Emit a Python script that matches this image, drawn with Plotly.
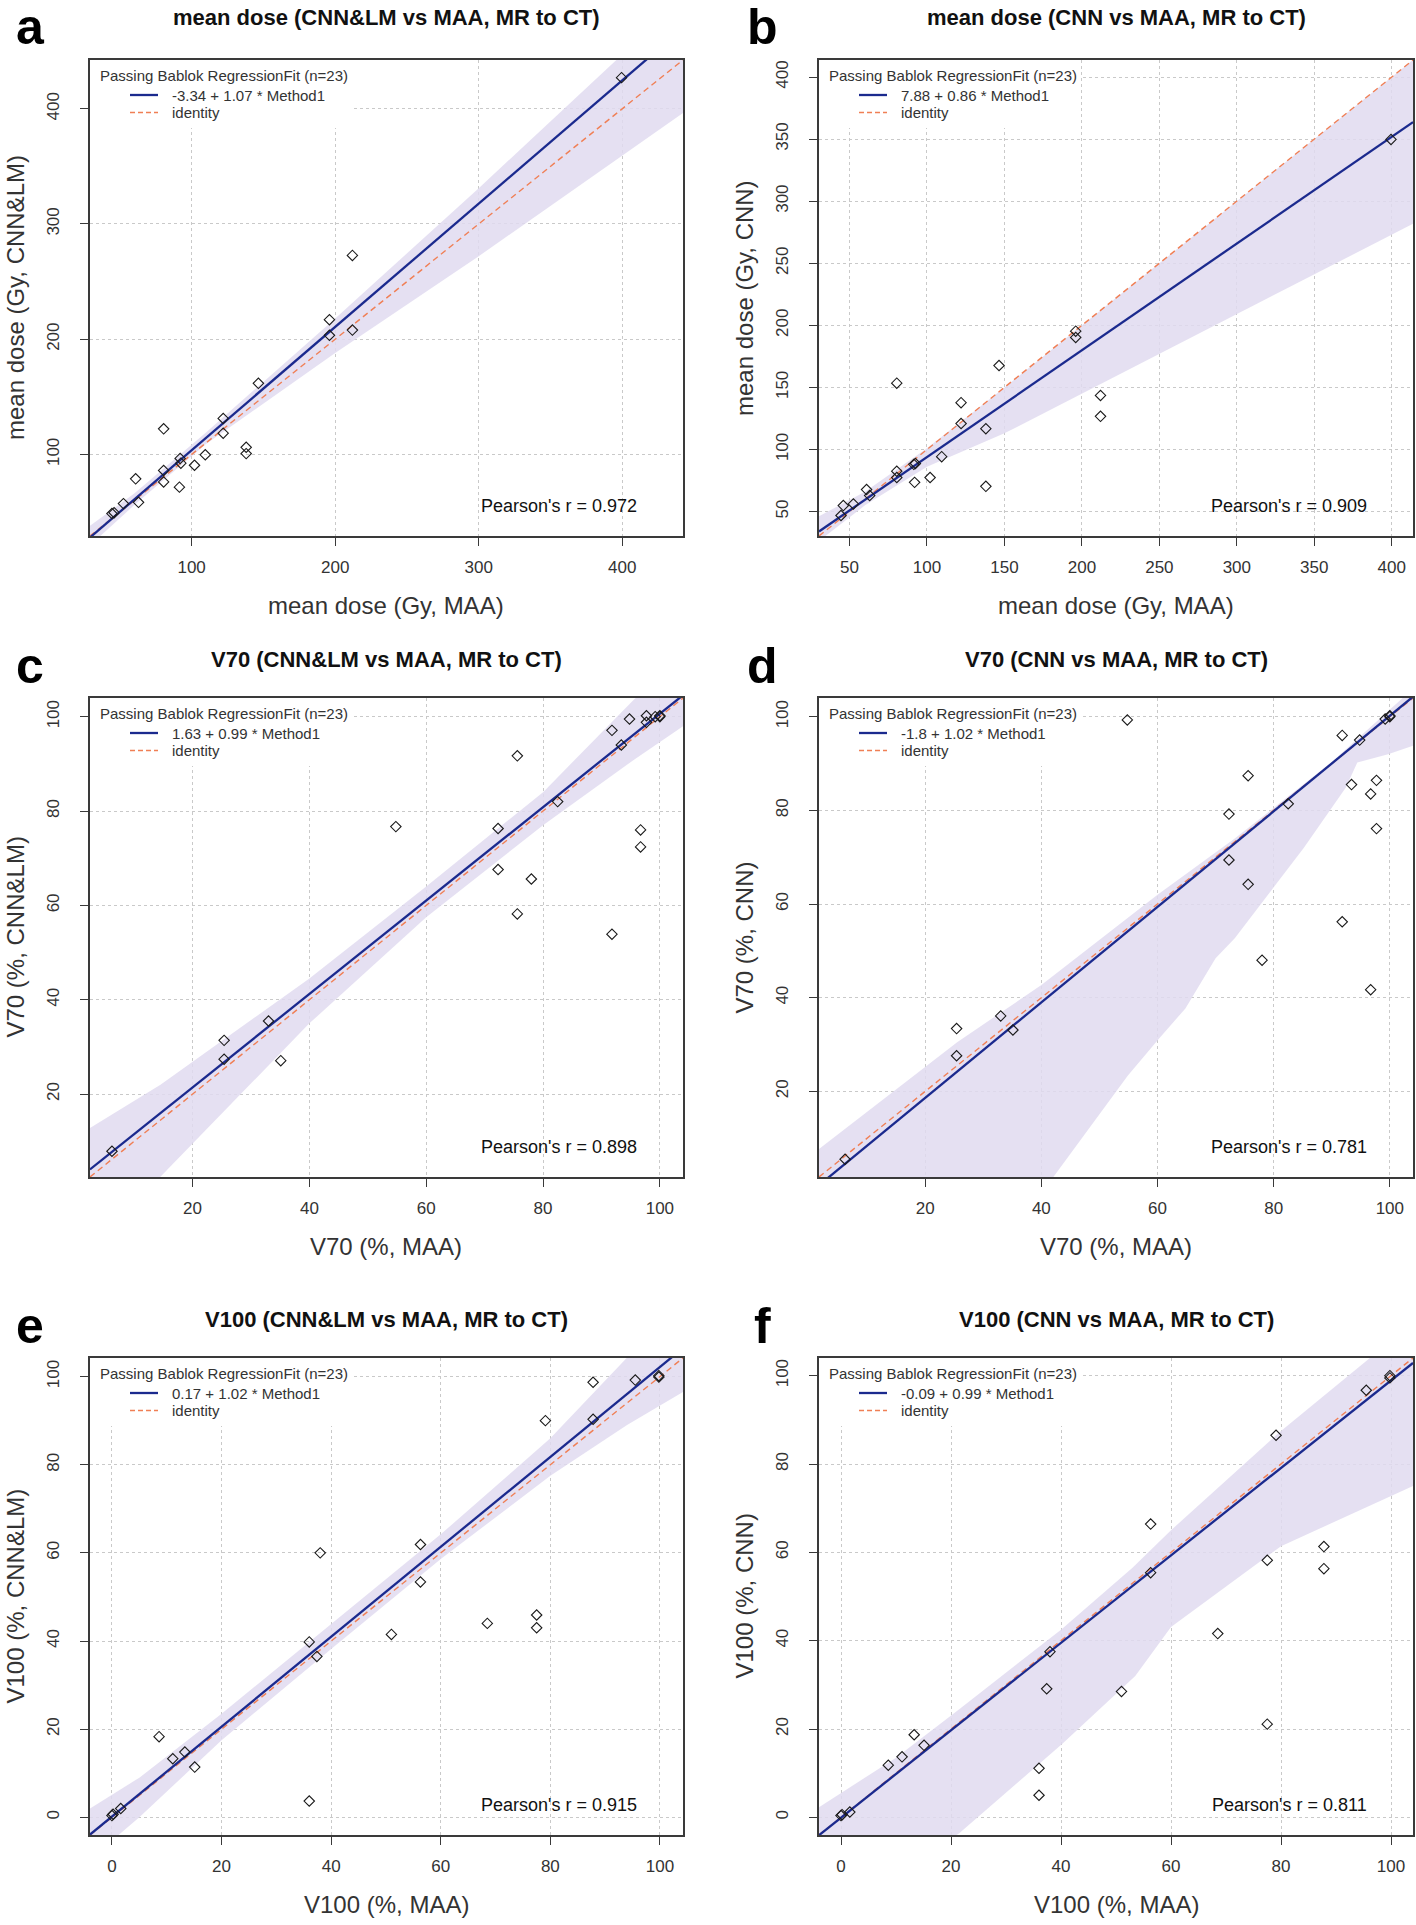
import plotly.graph_objects as go

W, H = 1416, 1925
FONT = "Liberation Sans, Arial, sans-serif"

# ---------------- data ----------------
maa_mean = [44.5, 46.0, 52.5, 61.0, 63.0, 80.5, 80.5, 80.5, 91.5, 92.0, 92.5, 102.0,
            109.5, 122.0, 122.0, 138.0, 138.0, 146.5, 196.0, 196.0, 212.0, 212.0, 399.5]
cnnlm_mean = [48.7, 49.4, 57.3, 78.8, 58.4, 122.2, 86.1, 76.1, 71.6, 96.5, 92.4, 90.6,
              99.7, 131.2, 118.4, 106.2, 100.7, 161.7, 216.9, 203.4, 272.7, 207.9, 427.0]
cnn_mean = [46.8, 54.8, 56.1, 67.7, 62.9, 153.4, 82.5, 77.4, 88.0, 73.5, 88.7, 77.4,
            94.2, 137.7, 120.9, 116.7, 70.3, 167.6, 195.3, 190.2, 143.5, 126.7, 349.7]

maa_v70 = [6.2, 25.4, 25.4, 33.0, 35.1, 54.8, 72.3, 72.3, 75.6, 75.6, 78.0, 82.5,
           91.8, 91.8, 93.4, 94.8, 96.7, 96.7, 97.7, 97.7, 99.2, 100.0, 100.0]
cnnlm_v70 = [7.9, 31.4, 27.4, 35.5, 27.1, 76.7, 76.3, 67.6, 91.7, 58.2, 65.6, 82.0,
             97.1, 53.9, 94.0, 99.5, 76.0, 72.4, 100.2, 98.8, 100.0, 100.2, 100.0]
cnn_v70 = [5.5, 33.4, 27.6, 36.1, 33.1, 99.3, 79.2, 69.4, 87.4, 64.2, 48.0, 81.4,
           96.0, 56.2, 85.5, 95.0, 83.5, 41.7, 86.4, 76.1, 99.5, 100.2, 100.0]

maa_v100 = [0.0, 0.2, 1.6, 8.6, 11.1, 13.3, 15.1, 36.0, 36.0, 37.4, 38.0, 51.0,
            56.3, 56.3, 68.5, 77.5, 77.5, 79.1, 87.8, 87.8, 95.5, 99.8, 99.8]
cnnlm_v100 = [0.4, 0.7, 2.0, 18.3, 13.3, 14.8, 11.4, 3.7, 39.8, 36.5, 60.0, 41.5,
              61.9, 53.4, 44.0, 45.9, 43.0, 90.0, 98.7, 90.3, 99.2, 99.9, 100.2]
cnn_v100 = [0.4, 0.6, 1.2, 11.8, 13.7, 18.7, 16.3, 11.1, 5.0, 29.1, 37.5, 28.5,
            66.4, 55.4, 41.6, 58.2, 21.1, 86.5, 61.3, 56.3, 96.7, 100.0, 99.5]

# Passing-Bablok fits (intercept, slope) and Pearson r
intercepts = [-3.34, 7.88, 1.63, -1.8, 0.17, -0.09]
slopes = [1.07, 0.86, 0.99, 1.02, 1.02, 0.99]
fit_labels = ["-3.34 + 1.07 * Method1", "7.88 + 0.86 * Method1", "1.63 + 0.99 * Method1",
              "-1.8 + 1.02 * Method1", "0.17 + 1.02 * Method1", "-0.09 + 0.99 * Method1"]
pearson = ["0.972", "0.909", "0.898", "0.781", "0.915", "0.811"]

# confidence band boundaries
band_a_xlo = [29.2, 60, 110, 200, 300, 443]
band_a_lo = [21, 56, 109, 188, 272, 397]
band_a_xhi = [29.2, 60, 110, 200, 300, 443]
band_a_hi = [38, 66, 119, 218, 331, 497]

band_b_xlo = [30, 60, 100, 150, 234, 300, 414]
band_b_lo = [26, 55, 86, 113, 167, 209, 282]
band_b_xhi = [30, 60, 100, 150, 234, 300, 414]
band_b_hi = [46, 66, 101, 150, 234, 300, 414]

band_c_xlo = [2.4, 14.5, 40, 60, 80, 95.7, 104]
band_c_lo = [-8, 2.5, 35, 57.5, 77, 91, 98]
band_c_xhi = [2.4, 14.5, 40, 60, 80, 95.7, 104]
band_c_hi = [12.8, 22, 44.5, 64, 84, 103.8, 111]

band_d_xlo = [1.6, 30, 42.0, 54.9, 60.2, 64.8, 70.0, 73.3, 79.9, 85.2, 92.4, 94.4, 99.7, 104]
band_d_lo = [-40, -19, 1.6, 23.4, 31.2, 37.7, 48.4, 52.7, 63.4, 72.0, 84.8, 90.2, 92.0, 93.8]
band_d_xhi = [1.6, 25.5, 40, 60, 73.3, 90, 104]
band_d_hi = [7.6, 30.5, 42.7, 62, 74, 90.3, 106]

band_e_xlo = [-4, 5, 20, 40, 60, 80, 94, 104.2]
band_e_lo = [-9.5, 0, 17.5, 38.2, 58.6, 77.5, 89, 96.5]
band_e_xhi = [-4, 5, 20, 40, 60, 80, 94, 104.2]
band_e_hi = [2, 9, 23.5, 43.8, 64.2, 86, 104.3, 115]

band_f_xlo = [-4, 21.5, 40.2, 53.5, 60, 80, 104]
band_f_lo = [-25, -3.6, 16.6, 32, 43.1, 61.4, 75]
band_f_xhi = [-4, 10, 21.5, 40, 53, 60, 80, 96.5, 104]
band_f_hi = [2.3, 13.5, 24.5, 42.5, 56.5, 65, 87.5, 104.1, 112]

ticks_mean_a = [100, 200, 300, 400]
ticks_mean_b = [50, 100, 150, 200, 250, 300, 350, 400]
ticks_v70 = [20, 40, 60, 80, 100]
ticks_v100 = [0, 20, 40, 60, 80, 100]

letters = ["a", "b", "c", "d", "e", "f"]
titles = ["mean dose (CNN&LM vs MAA, MR to CT)", "mean dose (CNN vs MAA, MR to CT)",
          "V70 (CNN&LM vs MAA, MR to CT)", "V70 (CNN vs MAA, MR to CT)",
          "V100 (CNN&LM vs MAA, MR to CT)", "V100 (CNN vs MAA, MR to CT)"]
xlabels = ["mean dose (Gy, MAA)", "mean dose (Gy, MAA)", "V70 (%, MAA)", "V70 (%, MAA)",
           "V100 (%, MAA)", "V100 (%, MAA)"]
ylabels = ["mean dose (Gy, CNN&LM)", "mean dose (Gy, CNN)", "V70 (%, CNN&LM)", "V70 (%, CNN)",
           "V100 (%, CNN&LM)", "V100 (%, CNN)"]

xs = [maa_mean, maa_mean, maa_v70, maa_v70, maa_v100, maa_v100]
ys = [cnnlm_mean, cnn_mean, cnnlm_v70, cnn_v70, cnnlm_v100, cnn_v100]
ticks = [ticks_mean_a, ticks_mean_b, ticks_v70, ticks_v70, ticks_v100, ticks_v100]
bands = [(band_a_xlo, band_a_lo, band_a_xhi, band_a_hi),
         (band_b_xlo, band_b_lo, band_b_xhi, band_b_hi),
         (band_c_xlo, band_c_lo, band_c_xhi, band_c_hi),
         (band_d_xlo, band_d_lo, band_d_xhi, band_d_hi),
         (band_e_xlo, band_e_lo, band_e_xhi, band_e_hi),
         (band_f_xlo, band_f_lo, band_f_xhi, band_f_hi)]

# ---------------- layout geometry (page pixels) ----------------
cols = [(90, 683), (819, 1413)]
rows = [(60, 536), (698, 1177), (1358, 1835)]
title_y = [18, 659, 1319]
letter_y = [27, 666, 1326]
letter_x = [30, 762]

BLUE = "#1B2A8E"
ORANGE = "#F07F55"
BAND = "rgba(225,219,240,0.85)"
AXC = "#3a3a3a"
TXT = "#333333"


def px(xp):
    return xp / W


def py(yp):
    return 1 - yp / H


fig = go.Figure()
annotations = []
shapes = []

for i in range(6):
    r, c = divmod(i, 2)
    x0, x1 = cols[c]
    y0, y1 = rows[r]
    xa = "x" if i == 0 else f"x{i+1}"
    ya = "y" if i == 0 else f"y{i+1}"
    xk = "xaxis" if i == 0 else f"xaxis{i+1}"
    yk = "yaxis" if i == 0 else f"yaxis{i+1}"

    xv, yv = xs[i], ys[i]
    lo = min(min(xv), min(yv))
    hi = max(max(xv), max(yv))
    pad = 0.04 * (hi - lo)
    rng = [lo - pad, hi + pad]
    span = rng[1] - rng[0]

    # white legend background (above gridlines, below the marks)
    bw, bhgt = x1 - x0, y1 - y0
    mx1 = rng[0] + 262 / bw * span
    my0 = rng[1] - 68 / bhgt * span
    fig.add_trace(go.Scatter(x=[rng[0], mx1, mx1, rng[0], rng[0]],
                             y=[my0, my0, rng[1], rng[1], my0],
                             fill="toself", fillcolor="white", line=dict(width=0),
                             mode="lines", hoverinfo="skip", showlegend=False,
                             xaxis=xa, yaxis=ya))

    bxl, bl, bxh, bh = bands[i]
    fig.add_trace(go.Scatter(x=list(bxh) + list(bxl)[::-1], y=list(bh) + list(bl)[::-1],
                             fill="toself", fillcolor=BAND, line=dict(width=0),
                             mode="lines", hoverinfo="skip", showlegend=False,
                             xaxis=xa, yaxis=ya))
    fig.add_trace(go.Scatter(x=rng, y=rng, mode="lines",
                             line=dict(color=ORANGE, width=1.4, dash="6px,4px"),
                             showlegend=False, xaxis=xa, yaxis=ya))
    a, b = intercepts[i], slopes[i]
    fig.add_trace(go.Scatter(x=rng, y=[a + b * rng[0], a + b * rng[1]], mode="lines",
                             line=dict(color=BLUE, width=2.3),
                             showlegend=False, xaxis=xa, yaxis=ya))
    fig.add_trace(go.Scatter(x=xv, y=yv, mode="markers",
                             marker=dict(symbol="diamond-open", size=8, color="#1a1a1a",
                                         line=dict(width=1.1, color="#1a1a1a")),
                             showlegend=False, xaxis=xa, yaxis=ya))

    common = dict(range=rng, tickvals=ticks[i], showgrid=True, gridcolor="#C9C9C9",
                  griddash="dot", gridwidth=1, showline=True, mirror=True,
                  linecolor=AXC, linewidth=1.5, ticks="outside", ticklen=8,
                  tickcolor=AXC, tickwidth=1.2, zeroline=False,
                  tickfont=dict(family=FONT, size=17, color=TXT), fixedrange=True)
    fig.update_layout(**{
        xk: dict(domain=[px(x0), px(x1)], anchor=ya, ticklabelstandoff=7, **common),
        yk: dict(domain=[py(y1), py(y0)], anchor=xa, tickangle=-90,
                 ticklabelstandoff=14, **common),
    })

    # legend samples
    shapes.append(dict(type="line", xref="paper", yref="paper",
                       x0=px(x0 + 40), x1=px(x0 + 68), y0=py(y0 + 35), y1=py(y0 + 35),
                       line=dict(color=BLUE, width=2.3)))
    shapes.append(dict(type="line", xref="paper", yref="paper",
                       x0=px(x0 + 40), x1=px(x0 + 68), y0=py(y0 + 52.5), y1=py(y0 + 52.5),
                       line=dict(color=ORANGE, width=1.4, dash="5px,3px")))
    annotations += [
        dict(text="Passing Bablok RegressionFit (n=23)", x=px(x0 + 8), y=py(y0 + 15),
             xref="paper", yref="paper", xanchor="left", yanchor="middle", showarrow=False,
             font=dict(family=FONT, size=15, color=TXT)),
        dict(text=fit_labels[i], x=px(x0 + 80), y=py(y0 + 35),
             xref="paper", yref="paper", xanchor="left", yanchor="middle", showarrow=False,
             font=dict(family=FONT, size=15, color=TXT)),
        dict(text="identity", x=px(x0 + 80), y=py(y0 + 52.5),
             xref="paper", yref="paper", xanchor="left", yanchor="middle", showarrow=False,
             font=dict(family=FONT, size=15, color=TXT)),
        dict(text=f"Pearson's r = {pearson[i]}", x=px(x1 - 44), y=py(y1 - 30),
             xref="paper", yref="paper", xanchor="right", yanchor="middle", showarrow=False,
             font=dict(family=FONT, size=18, color="#111")),
        dict(text=f"<b>{titles[i]}</b>", x=px((x0 + x1) / 2), y=py(title_y[r]),
             xref="paper", yref="paper", xanchor="center", yanchor="middle", showarrow=False,
             font=dict(family=FONT, size=22, color="#111")),
        dict(text=f"<b>{letters[i]}</b>", x=px(letter_x[c]), y=py(letter_y[r]),
             xref="paper", yref="paper", xanchor="center", yanchor="middle", showarrow=False,
             font=dict(family=FONT, size=50, color="#000")),
        dict(text=xlabels[i], x=px((x0 + x1) / 2), y=py(y1 + 69),
             xref="paper", yref="paper", xanchor="center", yanchor="middle", showarrow=False,
             font=dict(family=FONT, size=24, color=TXT)),
        dict(text=ylabels[i], x=px(x0 - 75), y=py((y0 + y1) / 2), textangle=-90,
             xref="paper", yref="paper", xanchor="center", yanchor="middle", showarrow=False,
             font=dict(family=FONT, size=24, color=TXT)),
    ]

fig.update_layout(width=W, height=H, margin=dict(l=0, r=0, t=0, b=0),
                  paper_bgcolor="white", plot_bgcolor="white",
                  showlegend=False, annotations=annotations, shapes=shapes,
                  font=dict(family=FONT))

# remove the browser's default 8px body margin so the figure fills the page exactly
fig.write_html("out.html",
               config={"displayModeBar": False},
               post_script="document.body.style.margin='0px';"
                           "document.documentElement.style.overflow='hidden';")
